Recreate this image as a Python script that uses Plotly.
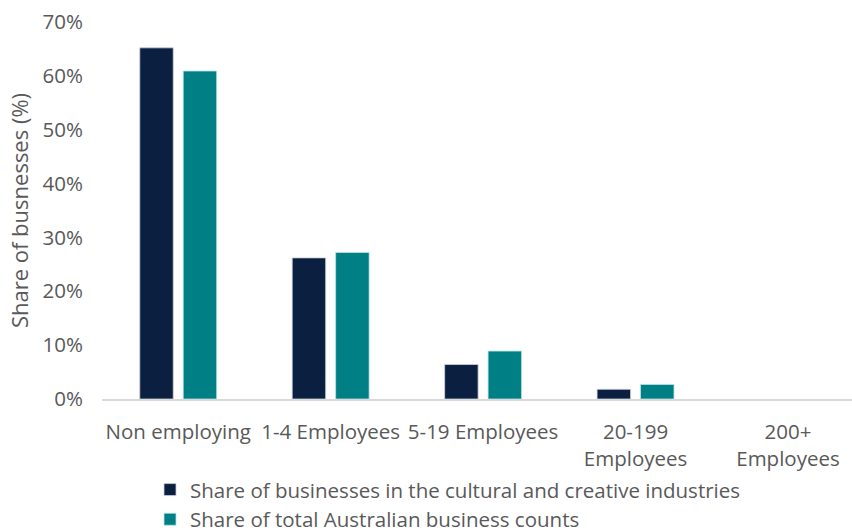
import plotly.graph_objects as go

# Business size categories and shares (%)
categories = ["Non employing", "1-4 Employees", "5-19 Employees",
              "20-199<br>Employees", "200+<br>Employees"]
cultural_creative = [65.2, 26.2, 6.4, 1.8, 0.0]
all_australia = [60.9, 27.2, 8.9, 2.7, 0.0]
y_ticks = [0, 10, 20, 30, 40, 50, 60, 70]
y_tick_labels = ["0%", "10%", "20%", "30%", "40%", "50%", "60%", "70%"]

FONT = "Open Sans"
GREY = "#595959"
SIZE = 20.5


def outline_widths(values):
    # thin bar outlines, hidden where a bar has no height
    return [0.8 if v > 0 else 0 for v in values]


fig = go.Figure()
fig.add_trace(go.Bar(
    x=categories, y=cultural_creative,
    name="Share of businesses in the cultural and creative industries",
    marker=dict(color="#0B1F40",
                line=dict(color="#c9d2de", width=outline_widths(cultural_creative))),
))
fig.add_trace(go.Bar(
    x=categories, y=all_australia,
    name="Share of total Australian business counts",
    marker=dict(color="#007F84",
                line=dict(color="#b5e3e4", width=outline_widths(all_australia))),
))

fig.update_layout(
    width=852, height=532,
    margin=dict(l=102, r=0, t=22, b=133),
    paper_bgcolor="white", plot_bgcolor="white",
    barmode="group", bargap=0.43, bargroupgap=0.23,
    font=dict(family=FONT, size=SIZE, color=GREY),
    showlegend=True,
    legend=dict(
        orientation="v", x=0.064, xanchor="left",
        yref="container", y=0.117, yanchor="top",
        bgcolor="rgba(0,0,0,0)",
        font=dict(family=FONT, size=SIZE, color=GREY),
        tracegroupgap=0, itemwidth=30,
    ),
)
fig.update_xaxes(
    type="category", range=[-0.5, 4.42], automargin=False,
    showline=True, linecolor="#d9d9d9", linewidth=1.5,
    showgrid=False, ticks="", ticklabelstandoff=14,
    tickfont=dict(family=FONT, size=SIZE, color=GREY),
)
fig.update_yaxes(
    range=[0, 70], tickvals=y_ticks, ticktext=y_tick_labels, automargin=False,
    showgrid=False, zeroline=False, showline=False, ticks="",
    ticklabelstandoff=18,
    tickfont=dict(family=FONT, size=SIZE, color=GREY),
    title=dict(text="Share of busnesses (%)", standoff=7,
               font=dict(family=FONT, size=22, color=GREY)),
)

fig.write_html("out.html")
